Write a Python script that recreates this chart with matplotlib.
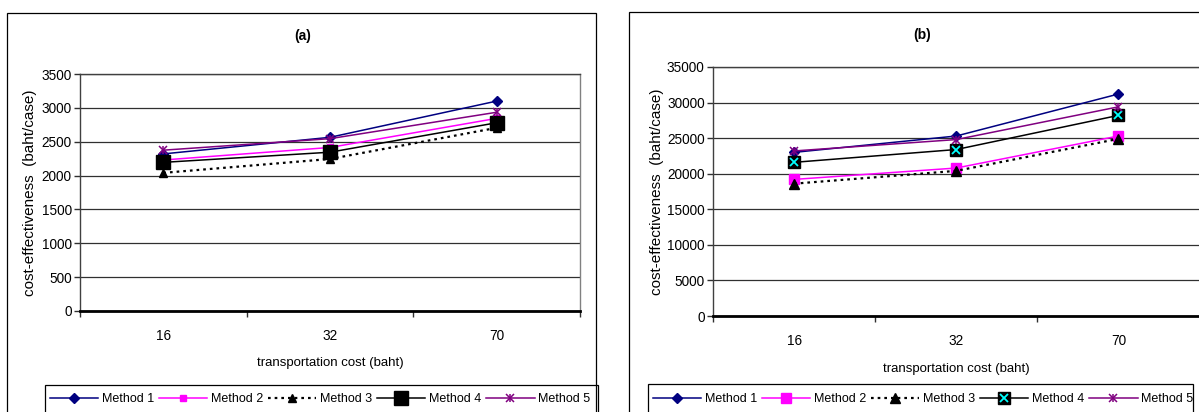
import matplotlib
matplotlib.use('Agg')
import matplotlib.pyplot as plt
from matplotlib.legend_handler import HandlerTuple
from matplotlib.patches import Rectangle

plt.rcParams['font.family'] = ['Liberation Sans', 'DejaVu Sans']

# ---------------- data ----------------
categories = ['16', '32', '70']
methods = ['Method 1', 'Method 2', 'Method 3', 'Method 4', 'Method 5']

a_method1 = [2320, 2565, 3100]
a_method2 = [2230, 2415, 2845]
a_method3 = [2040, 2245, 2705]
a_method4 = [2195, 2345, 2780]
a_method5 = [2375, 2545, 2935]

b_method1 = [23000, 25300, 31200]
b_method2 = [19200, 20800, 25300]
b_method3 = [18600, 20400, 24900]
b_method4 = [21600, 23400, 28200]
b_method5 = [23200, 24800, 29400]

a_ticks = [0, 500, 1000, 1500, 2000, 2500, 3000, 3500]
b_ticks = [0, 5000, 10000, 15000, 20000, 25000, 30000, 35000]

# ---------------- layout ----------------
W, H = 1199, 412
fig = plt.figure(figsize=(W / 100, H / 100), dpi=100)
fig.patch.set_facecolor('white')


def fx(px):
    return px / W


def fy(py):
    return 1 - py / H


axa = fig.add_axes([fx(80), fy(311), fx(580) - fx(80), fy(74) - fy(311)])
axb = fig.add_axes([fx(713), fy(316), fx(1199.5) - fx(713), fy(67) - fy(316)])

NAVY = '#000080'
MAG = '#FF00FF'
PURP = '#800080'
CYAN = '#00FFFF'
LW = 1.1


def draw(ax, data, big4, cross4, sq2, tri3):
    x = list(range(len(categories)))
    handles = []
    h1, = ax.plot(x, data[0], color=NAVY, lw=LW, marker='D', ms=5, mfc=NAVY, mec=NAVY)
    handles.append(h1)
    h2, = ax.plot(x, data[1], color=MAG, lw=LW, marker='s', ms=sq2, mfc=MAG, mec=MAG)
    handles.append(h2)
    h3, = ax.plot(x, data[2], color='black', lw=1.6, ls=(0, (1.2, 1.8)),
                  marker='^', ms=tri3, mfc='black', mec='black')
    handles.append(h3)
    h4, = ax.plot(x, data[3], color='black', lw=LW, marker='s', ms=big4, mfc='black', mec='black')
    if cross4:
        h4x, = ax.plot(x, data[3], ls='none', marker='x', ms=big4 * 0.6, mew=1.3, color=CYAN)
        handles.append((h4, h4x))
    else:
        handles.append(h4)
    h5, = ax.plot(x, data[4], color=PURP, lw=LW, marker='x', ms=5.5, mew=1.1)
    h5b, = ax.plot(x, data[4], ls='none', marker='|', ms=6, mew=1.1, color=PURP)
    handles.append((h5, h5b))
    return handles


ha = draw(axa, [a_method1, a_method2, a_method3, a_method4, a_method5],
          big4=10, cross4=False, sq2=5, tri3=6)
hb = draw(axb, [b_method1, b_method2, b_method3, b_method4, b_method5],
          big4=9, cross4=True, sq2=6.5, tri3=7.5)

for ax, ticks in ((axa, a_ticks), (axb, b_ticks)):
    ax.set_facecolor('none')
    ax.set_xlim(-0.5, len(categories) - 0.5)
    ax.set_ylim(ticks[0], ticks[-1])
    ax.set_yticks(ticks)
    ax.set_yticklabels([str(t) for t in ticks])
    ax.set_xticks([i - 0.5 for i in range(len(categories) + 1)])
    ax.set_xticklabels([])
    ax.set_xticks(list(range(len(categories))), minor=True)
    ax.set_xticklabels(categories, minor=True)
    ax.tick_params(axis='x', which='major', direction='out', length=4, width=1, color='#303030')
    ax.tick_params(axis='x', which='minor', length=0, pad=13, labelsize=9.8)
    ax.tick_params(axis='y', direction='out', length=4, width=1, pad=2, labelsize=9.8, color='#303030')
    ax.yaxis.grid(True, color='#303030', lw=0.9)
    ax.set_axisbelow(True)
    ax.spines['bottom'].set_linewidth(2)
    ax.spines['bottom'].set_color('black')
    ax.spines['left'].set_linewidth(1)
    ax.spines['left'].set_color('#404040')
    ax.spines['top'].set_linewidth(1)
    ax.spines['top'].set_color('#404040')
    ax.spines['right'].set_linewidth(1)
    ax.spines['right'].set_color('#808080')
    ax.set_xlabel('transportation cost (baht)', fontsize=9.5)
    ax.set_ylabel('cost-effectiveness  (baht/case)', fontsize=11)
    ax.xaxis.label.set_va('center')
    ax.yaxis.label.set_va('center')

axa.xaxis.set_label_coords(0.5, (311 - 363) / 237)
axb.xaxis.set_label_coords(0.5, (316 - 369) / 249)
axa.yaxis.set_label_coords((30 - 80) / 500, 0.5)
axb.yaxis.set_label_coords((657 - 713) / 486.5, 0.5)

fig.text(fx(303), fy(36), '(a)', ha='center', va='center', fontsize=10, fontweight='bold')
fig.text(fx(922), fy(35), '(b)', ha='center', va='center', fontsize=10, fontweight='bold')

# panel frames
fig.add_artist(Rectangle((fx(7), fy(700)), fx(596) - fx(7), fy(13) - fy(700),
                         transform=fig.transFigure, fill=False, ec='black', lw=0.9))
fig.add_artist(Rectangle((fx(629), fy(700)), fx(1400) - fx(629), fy(12) - fy(700),
                         transform=fig.transFigure, fill=False, ec='black', lw=0.9))
# legend frames
fig.add_artist(Rectangle((fx(45), fy(700)), fx(598) - fx(45), fy(385) - fy(700),
                         transform=fig.transFigure, fill=False, ec='black', lw=0.9))
fig.add_artist(Rectangle((fx(648), fy(700)), fx(1193) - fx(648), fy(384) - fy(700),
                         transform=fig.transFigure, fill=False, ec='black', lw=0.9))

for handles, x0 in ((ha, 50), (hb, 653)):
    fig.legend(handles, methods, loc='center left', bbox_to_anchor=(fx(x0), fy(399)),
               ncol=5, frameon=False, fontsize=9, handlelength=3.85, handletextpad=0.3,
               columnspacing=0.4, borderpad=0, borderaxespad=0,
               handler_map={tuple: HandlerTuple(ndivide=1)})

fig.savefig('out.png', dpi=100, facecolor='white')
